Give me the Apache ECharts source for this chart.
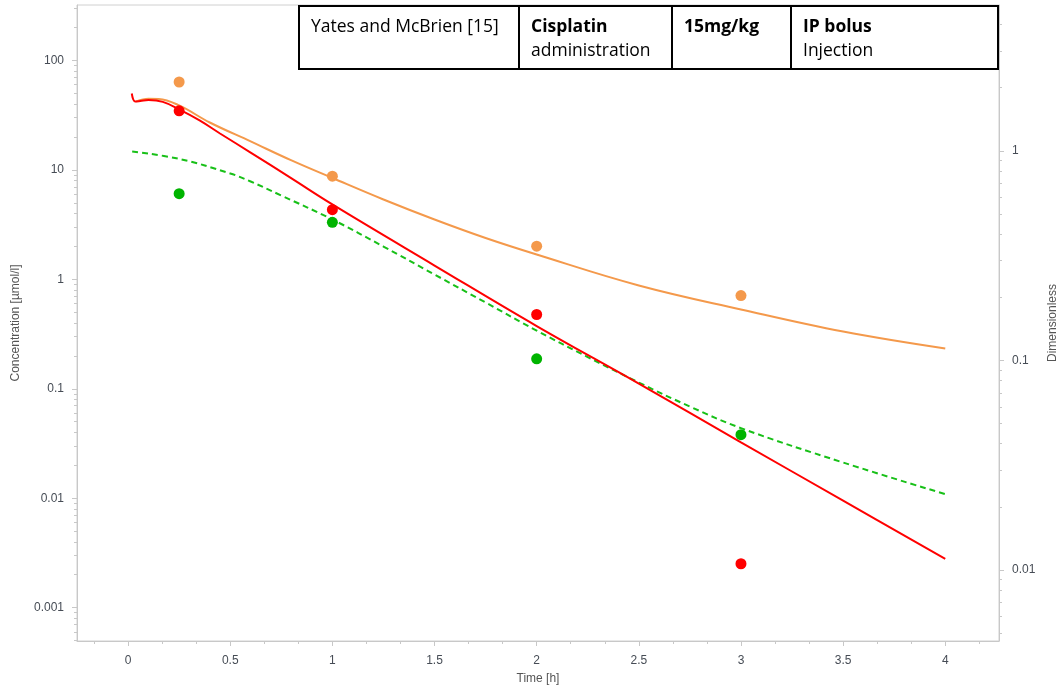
<!DOCTYPE html>
<html>
<head>
<meta charset="utf-8">
<script src="https://cdn.jsdelivr.net/npm/echarts@6/dist/echarts.min.js"></script>
<style>
html,body{margin:0;padding:0;background:#fff;}
#chart{width:1060px;height:687px;}
</style>
</head>
<body>
<div id="chart"></div>
<script>
// ---- data ----
const obsTimes = [0.25, 1, 2, 3];
const orangeObs = [63.5, 8.75, 2.01, 0.711];
const redObs = [34.6, 4.33, 0.477, 0.00252];
const greenObs = [6.06, 3.32, 0.188, 0.0381];

const orangeTimes = [0.04, 0.1, 0.15, 0.25, 0.4, 0.6, 0.8, 1.0, 1.25, 1.5, 1.75, 2.0, 2.5, 3.0, 3.5, 4.0];
const orangeModel = [42.2, 44.7, 44.5, 38.8, 27.1, 18.2, 12.2, 8.43, 5.36, 3.52, 2.385, 1.685, 0.878, 0.53, 0.333, 0.233];

const redTimes = [0.018, 0.035, 0.06, 0.1, 0.17, 0.25, 0.35, 0.45, 0.6, 0.8, 1.0, 1.5, 2.0, 2.5, 3.0, 3.5, 4.0];
const redModel = [49.9, 42.2, 42.6, 43.4, 41.8, 35.7, 28.3, 21.5, 14.4, 8.35, 4.83, 1.337, 0.374, 0.1115, 0.0324, 0.00951, 0.00279];

const greenTimes = [0.02, 0.25, 0.5, 0.6, 0.75, 1.0, 1.25, 1.5, 1.75, 2.0, 2.25, 2.5, 2.75, 3.0, 3.5, 4.0];
const greenModel = [14.7, 12.6, 9.27, 7.83, 5.83, 3.52, 1.994, 1.106, 0.614, 0.340, 0.195, 0.114, 0.0688, 0.0437, 0.0212, 0.0109];

const xMajorTicks = [0, 0.5, 1, 1.5, 2, 2.5, 3, 3.5, 4];
const leftMajorTicks = [0.001, 0.01, 0.1, 1, 10, 100];
const rightMajorTicks = [0.01, 0.1, 1];

const tableCells = [
  {bold: 'Yates and McBrien [15]', normal: ''},
  {bold: 'Cisplatin', normal: 'administration'},
  {bold: '15mg/kg', normal: ''},
  {bold: 'IP bolus', normal: 'Injection'}
];

// ---- axis ranges ----
const X_MIN = -0.25, X_MAX = 4.263;
const L_MIN = 0.000496, L_MAX = 320.9;
const R_MIN = 0.00458, R_MAX = 4.96;

function minorLog(lo, hi) {
  const out = [];
  for (let d = -5; d <= 3; d++) {
    for (let k = 2; k <= 9; k++) {
      const v = Number((k * Math.pow(10, d)).toPrecision(2));
      if (v > lo && v < hi) out.push(v);
    }
  }
  return out;
}
const xMinorTicks = [];
for (let i = -1; i <= 25; i++) {
  const v = Number((i / 6).toFixed(4));
  if (v > X_MIN && v < X_MAX && Math.abs(v * 2 - Math.round(v * 2)) > 1e-6) xMinorTicks.push(v);
}
const zip = (a, b) => a.map((t, i) => [t, b[i]]);

const axisGrey = '#c8c8c8';
const labelColor = '#464c55';
const font = 'Liberation Sans, Arial, sans-serif';

const chart = echarts.init(document.getElementById('chart'));

// table graphic
const tX = [299, 519, 672, 791, 998];
const tTop = 6, tBottom = 69;
const graphic = [{
  type: 'rect', shape: {x: tX[0], y: tTop, width: tX[4] - tX[0], height: tBottom - tTop},
  style: {fill: '#fff', stroke: '#000', lineWidth: 2}, z: 100
}];
for (let i = 1; i < 4; i++) {
  graphic.push({type: 'line', shape: {x1: tX[i], y1: tTop, x2: tX[i], y2: tBottom},
    style: {stroke: '#000', lineWidth: 2}, z: 101});
}
tableCells.forEach((c, i) => {
  graphic.push({type: 'text', x: tX[i] + 12, y: 27, z: 102,
    style: {text: c.bold, font: (i === 0 ? 'normal ' : 'bold ') + '17.5px "Open Sans"', fill: '#000', verticalAlign: 'middle'}});
  if (c.normal) graphic.push({type: 'text', x: tX[i] + 12, y: 51, z: 102,
    style: {text: c.normal, font: 'normal 17.5px "Open Sans"', fill: '#000', verticalAlign: 'middle'}});
});

const option = {
  animation: false,
  backgroundColor: '#fff',
  grid: {left: 77, right: 61, top: 5, bottom: 46, show: true, borderColor: '#d0d0d0', borderWidth: 1,
    outerBoundsMode: 'none', containLabel: false},
  xAxis: [{
    type: 'value', min: X_MIN, max: X_MAX, minInterval: 0.5, maxInterval: 0.5,
    splitLine: {show: false},
    axisLine: {onZero: false, lineStyle: {color: axisGrey}},
    axisTick: {customValues: xMajorTicks, length: 5, lineStyle: {color: axisGrey}},
    axisLabel: {customValues: xMajorTicks, margin: 14, color: labelColor, fontSize: 12, fontFamily: font},
    name: 'Time [h]', nameLocation: 'middle', nameGap: 32,
    nameTextStyle: {color: '#555', fontSize: 12, fontFamily: font}
  }, {
    type: 'value', min: X_MIN, max: X_MAX, position: 'bottom',
    splitLine: {show: false}, axisLine: {show: false, onZero: false},
    axisTick: {customValues: xMinorTicks, length: 3, lineStyle: {color: axisGrey}},
    axisLabel: {show: false}
  }],
  yAxis: [{
    type: 'log', min: L_MIN, max: L_MAX, position: 'left',
    splitLine: {show: false},
    axisLine: {show: true, onZero: false, lineStyle: {color: axisGrey}},
    axisTick: {customValues: leftMajorTicks, length: 5, lineStyle: {color: axisGrey}},
    axisLabel: {customValues: leftMajorTicks, margin: 13, color: labelColor, fontSize: 12, fontFamily: font,
      formatter: v => String(Number(Number(v).toPrecision(3)))},
    name: 'Concentration [µmol/l]', nameLocation: 'middle', nameGap: 55,
    nameTextStyle: {color: '#555', fontSize: 12, fontFamily: font}
  }, {
    type: 'log', min: R_MIN, max: R_MAX, position: 'right',
    splitLine: {show: false},
    axisLine: {show: true, onZero: false, lineStyle: {color: axisGrey}},
    axisTick: {customValues: rightMajorTicks, length: 5, lineStyle: {color: axisGrey}},
    axisLabel: {customValues: rightMajorTicks, margin: 13, color: labelColor, fontSize: 12, fontFamily: font,
      formatter: v => String(Number(Number(v).toPrecision(3)))},
    name: 'Dimensionless', nameLocation: 'middle', nameGap: 48,
    nameTextStyle: {color: '#555', fontSize: 12, fontFamily: font}
  }, {
    type: 'log', min: L_MIN, max: L_MAX, position: 'left',
    splitLine: {show: false}, axisLine: {show: false, onZero: false},
    axisTick: {customValues: minorLog(L_MIN, L_MAX), length: 3, lineStyle: {color: axisGrey}},
    axisLabel: {show: false}
  }, {
    type: 'log', min: R_MIN, max: R_MAX, position: 'right',
    splitLine: {show: false}, axisLine: {show: false, onZero: false},
    axisTick: {customValues: minorLog(R_MIN, R_MAX), length: 3, lineStyle: {color: axisGrey}},
    axisLabel: {show: false}
  }],
  graphic: graphic,
  series: [
    {type: 'line', name: 'orange model', data: zip(orangeTimes, orangeModel), showSymbol: false,
      smooth: 0.4, lineStyle: {color: '#f4994b', width: 2}, z: 2},
    {type: 'line', name: 'green model', data: zip(greenTimes, greenModel), showSymbol: false,
      smooth: 0.4, lineStyle: {color: '#18c018', width: 2, type: [6, 4]}, z: 2},
    {type: 'line', name: 'red model', data: zip(redTimes, redModel), showSymbol: false,
      smooth: 0.4, lineStyle: {color: '#ff0000', width: 2}, z: 3},
    {type: 'scatter', name: 'orange obs', data: zip(obsTimes, orangeObs), symbolSize: 11,
      itemStyle: {color: '#f4994b', opacity: 1}, z: 5},
    {type: 'scatter', name: 'red obs', data: zip(obsTimes, redObs), symbolSize: 11,
      itemStyle: {color: '#ff0000', opacity: 1}, z: 5},
    {type: 'scatter', name: 'green obs', data: zip(obsTimes, greenObs), symbolSize: 11,
      itemStyle: {color: '#00b400', opacity: 1}, z: 5}
  ]
};
chart.setOption(option);
</script>
</body>
</html>
